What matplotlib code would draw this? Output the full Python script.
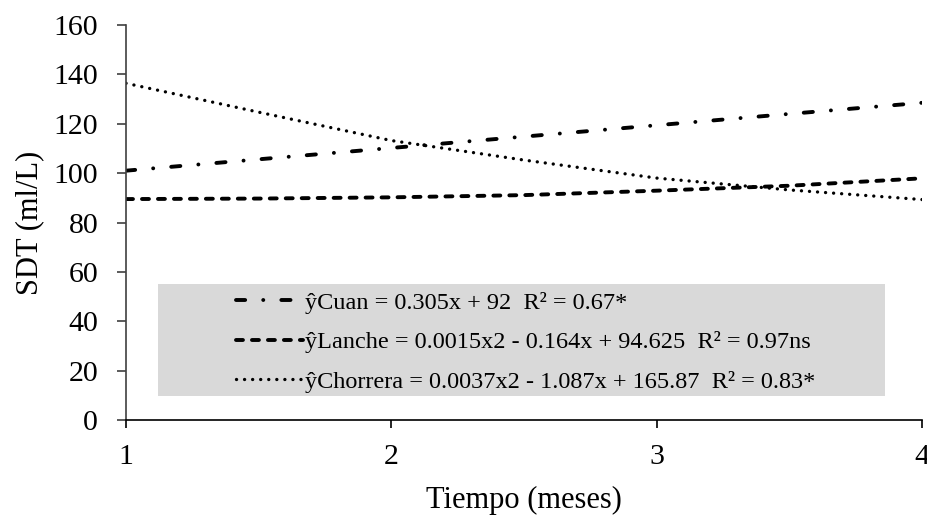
import matplotlib
matplotlib.use('Agg')
import matplotlib.pyplot as plt
from matplotlib.patches import Rectangle

plt.rcParams['font.family'] = ['Liberation Serif', 'DejaVu Serif']
plt.rcParams['lines.scale_dashes'] = False

# months and SDT (ml/L) along each fitted curve
meses = [1, 1.5, 2, 2.5, 3, 3.5, 4]
cuan = [101.0, 105.6, 110.2, 114.8, 119.4, 124.0, 128.5]
lanche = [89.5, 89.7, 90.2, 91.1, 92.9, 94.9, 97.9]
chorrera = [136.4, 124.7, 113.2, 105.3, 98.0, 93.2, 89.3]

labels = ['ŷCuan = 0.305x + 92  R² = 0.67*',
          'ŷLanche = 0.0015x2 - 0.164x + 94.625  R² = 0.97ns',
          'ŷChorrera = 0.0037x2 - 1.087x + 165.87  R² = 0.83*']

fig = plt.figure(figsize=(9.28, 5.17), dpi=100)
ax = fig.add_axes([0.1358, 0.1876, 0.8577, 0.764])

l1, = ax.plot(meses, cuan, color='black', lw=2.8, dashes=[6.6, 13, 0.05, 13],
              dash_capstyle='round')
l2, = ax.plot(meses, lanche, color='black', lw=2.8, dashes=[5, 6.5],
              dash_capstyle='round')
l3, = ax.plot(meses, chorrera, color='black', lw=2.4, dashes=[0.05, 5.75],
              dash_capstyle='round')

ax.set_xlim(1, 4)
ax.set_ylim(0, 160)
ax.set_xticks([1, 2, 3, 4])
ax.set_yticks(range(0, 161, 20))

for s in ['top', 'right']:
    ax.spines[s].set_visible(False)
ax.spines['left'].set_color('#404040')
ax.spines['bottom'].set_color('black')
for s in ['left', 'bottom']:
    ax.spines[s].set_linewidth(1.2)

ax.tick_params(axis='y', length=6.5, width=1.2, color='#404040', pad=13.5, labelsize=21.5)
ax.tick_params(axis='x', length=6, width=1.2, color='black', pad=11, labelsize=21.5)

ax.set_ylabel('SDT (ml/L)', fontsize=22, labelpad=7)
ax.set_xlabel('Tiempo (meses)', fontsize=22, labelpad=12)

# grey legend panel
ax.add_patch(Rectangle((0.040, 0.061), 0.9135, 0.283, transform=ax.transAxes,
                       facecolor='#d9d9d9', edgecolor='none', zorder=1.5))
leg = ax.legend([l1, l2, l3], labels, loc='upper left',
                bbox_to_anchor=(0.138, 0.325), frameon=False, fontsize=17.5,
                handlelength=2.75, handletextpad=0.08, labelspacing=0.72,
                borderaxespad=0, borderpad=0)
leg.set_zorder(3)

fig.savefig('out.png', dpi=100)
